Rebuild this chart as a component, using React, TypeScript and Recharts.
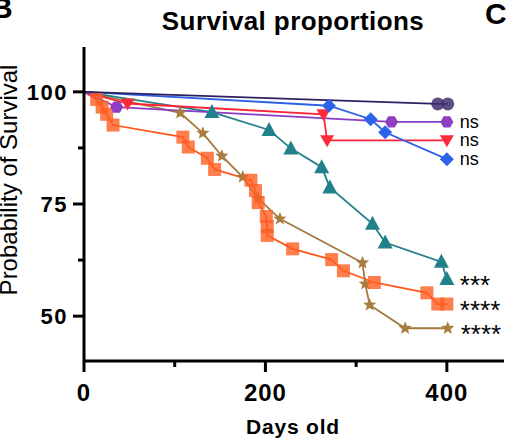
import React from 'react';
import { LineChart, Line, XAxis, YAxis } from 'recharts';

// days old, survival %
const navyDays = [0, 390, 401];
const navySurv = [100, 97.3, 97.3];
const blueDays = [0, 270, 316, 332, 400];
const blueSurv = [100, 96.9, 93.9, 91, 85];
const purpleDays = [0, 36, 339, 400];
const purpleSurv = [100, 96.6, 93.3, 93.3];
const redDays = [0, 48, 264, 268, 400];
const redSurv = [100, 97.4, 95, 89.2, 89.2];
const tealDays = [0, 141, 204, 228, 262, 271, 318, 332, 394, 400];
const tealSurv = [100, 95.5, 91.5, 87.4, 83.2, 78.7, 70.6, 66.4, 62.1, 58.3];
const orangeDays = [0, 14, 20, 25, 32, 109, 115, 136, 144, 184, 189, 192, 201, 202, 202, 230, 273, 286, 320, 378, 390, 400];
const orangeSurv = [100, 98.3, 96.6, 95, 92.6, 89.9, 87.7, 85.2, 82.7, 80.3, 78, 75.3, 72.2, 70, 68, 65, 62.6, 60.1, 57.5, 55.2, 52.7, 52.7];
const brownDays = [0, 106, 131, 152, 175, 192, 216, 307, 310, 315, 354, 401];
const brownSurv = [100, 95.3, 90.8, 85.7, 81, 76.2, 71.7, 61.9, 57.2, 52.5, 47.3, 47.3];

const xTicks = [0, 100, 200, 300, 400];
const yTicks = [50, 62.5, 75, 87.5, 100];
const endTags = ['', 'ns', 'ns', 'ns', '***', '****', '****'];

const FONT = '"Liberation Sans", Arial, sans-serif';

const zip = (xs: number[], ys: number[]) => xs.map((x, i) => ({ x, y: ys[i] }));

type Shape = 'circle' | 'diamond' | 'hexagon' | 'down' | 'up' | 'square' | 'star';

const drawShape = (shape: Shape, cx: number, cy: number, fill: string, opacity: number) => {
  switch (shape) {
    case 'circle':
      return <circle cx={cx} cy={cy} r={6.5} fill={fill} fillOpacity={opacity} />;
    case 'diamond':
      return <polygon points={`${cx},${cy - 7} ${cx + 7},${cy} ${cx},${cy + 7} ${cx - 7},${cy}`} fill={fill} fillOpacity={opacity} />;
    case 'hexagon': {
      const pts = [0, 1, 2, 3, 4, 5].map((k) => {
        const a = (Math.PI / 3) * k;
        return `${cx + 6.5 * Math.cos(a)},${cy + 6.5 * Math.sin(a)}`;
      });
      return <polygon points={pts.join(' ')} fill={fill} fillOpacity={opacity} />;
    }
    case 'down':
      return <polygon points={`${cx - 7},${cy - 5} ${cx + 7},${cy - 5} ${cx},${cy + 7}`} fill={fill} fillOpacity={opacity} />;
    case 'up':
      return <polygon points={`${cx},${cy - 8} ${cx + 7.5},${cy + 6} ${cx - 7.5},${cy + 6}`} fill={fill} fillOpacity={opacity} />;
    case 'square':
      return <rect x={cx - 6.5} y={cy - 6.5} width={13} height={13} fill={fill} fillOpacity={opacity} />;
    case 'star': {
      const pts = [];
      for (let k = 0; k < 10; k++) {
        const a = -Math.PI / 2 + (Math.PI / 5) * k;
        const r = k % 2 === 0 ? 7 : 3;
        pts.push(`${cx + r * Math.cos(a)},${cy + r * Math.sin(a)}`);
      }
      return <polygon points={pts.join(' ')} fill={fill} fillOpacity={opacity} />;
    }
  }
};

const series = [
  { name: 'brown', data: zip(brownDays, brownSurv), stroke: '#a37a3c', fill: '#a87d3e', shape: 'star' as Shape, opacity: 1, tag: endTags[6] },
  { name: 'orange', data: zip(orangeDays, orangeSurv), stroke: '#ff5a1c', fill: '#ff5e22', shape: 'square' as Shape, opacity: 0.8, tag: endTags[5] },
  { name: 'teal', data: zip(tealDays, tealSurv), stroke: '#23808b', fill: '#22808a', shape: 'up' as Shape, opacity: 1, tag: endTags[4] },
  { name: 'red', data: zip(redDays, redSurv), stroke: '#ff2236', fill: '#ff2a3a', shape: 'down' as Shape, opacity: 1, tag: endTags[3] },
  { name: 'purple', data: zip(purpleDays, purpleSurv), stroke: '#8a3cc4', fill: '#8c3fc2', shape: 'hexagon' as Shape, opacity: 1, tag: endTags[1] },
  { name: 'blue', data: zip(blueDays, blueSurv), stroke: '#2b60e6', fill: '#2d63ea', shape: 'diamond' as Shape, opacity: 1, tag: endTags[2] },
  { name: 'navy', data: zip(navyDays, navySurv), stroke: '#2c205f', fill: '#3e3070', shape: 'circle' as Shape, opacity: 0.85, tag: endTags[0] },
];

const XTick = (props: any) => {
  const { x, y, payload } = props;
  const major = payload.value % 200 === 0;
  return (
    <g>
      <line x1={x} x2={x} y1={y} y2={y + (major ? 11 : 6)} stroke="#000" strokeWidth={3} />
      {major && (
        <text x={x} y={y + 40} textAnchor="middle" fontFamily={FONT} fontWeight="bold" fontSize={24} letterSpacing={1} fill="#000">
          {payload.value}
        </text>
      )}
    </g>
  );
};

const YTick = (props: any) => {
  const { x, y, payload } = props;
  const major = payload.value % 25 === 0;
  return (
    <g>
      <line x1={x} x2={x - (major ? 11 : 6)} y1={y} y2={y} stroke="#000" strokeWidth={3} />
      {major && (
        <text x={x - 16} y={y + 8} textAnchor="end" fontFamily={FONT} fontWeight="bold" fontSize={22} letterSpacing={1.5} fill="#000">
          {payload.value}
        </text>
      )}
    </g>
  );
};

const makeDot = (s: (typeof series)[number]) => (props: any) => {
  const { cx, cy, index } = props;
  if (index === 0 || cx == null || cy == null) return <g key={`${s.name}-${index}`} />;
  const last = index === s.data.length - 1;
  const star = s.tag.startsWith('*');
  return (
    <g key={`${s.name}-${index}`}>
      {drawShape(s.shape, cx, cy, s.fill, s.opacity)}
      {last && s.tag && (
        <text
          x={cx + 13}
          y={star ? cy + 15 : cy + 6}
          fontFamily={FONT}
          fontSize={star ? 26 : 18}
          fill="#000"
        >
          {s.tag}
        </text>
      )}
    </g>
  );
};

export default function App() {
  return (
    <div style={{ position: 'absolute', left: 0, top: 0, width: 506, height: 442, background: '#fff' }}>
      <LineChart width={506} height={442} margin={{ top: 47, right: 2, bottom: 0, left: 0 }}>
        <XAxis
          type="number"
          dataKey="x"
          domain={[0, 463]}
          ticks={xTicks}
          height={81}
          tickSize={0}
          tickMargin={0}
          tickLine={false}
          axisLine={{ stroke: '#000', strokeWidth: 3 }}
          tick={<XTick />}
          allowDataOverflow
        />
        <YAxis
          type="number"
          dataKey="y"
          domain={[40, 110]}
          ticks={yTicks}
          width={84}
          tickSize={0}
          tickMargin={0}
          tickLine={false}
          axisLine={{ stroke: '#000', strokeWidth: 3 }}
          tick={<YTick />}
          allowDataOverflow
        />
        {series.map((s) => (
          <Line
            key={s.name}
            name={s.name}
            data={s.data}
            dataKey="y"
            type="linear"
            stroke={s.stroke}
            strokeWidth={1.8}
            dot={makeDot(s)}
            activeDot={false}
            isAnimationActive={false}
          />
        ))}
      </LineChart>
      <svg width={506} height={442} style={{ position: 'absolute', left: 0, top: 0, pointerEvents: 'none' }}>
        <text x={-9} y={18} fontFamily={FONT} fontWeight="bold" fontSize={30} fill="#000">B</text>
        <text x={485} y={24} fontFamily={FONT} fontWeight="bold" fontSize={30} fill="#000">C</text>
        <text x={293} y={30} textAnchor="middle" fontFamily={FONT} fontWeight="bold" fontSize={26} letterSpacing={0.4} fill="#000">
          Survival proportions
        </text>
        <text x={293} y={434} textAnchor="middle" fontFamily={FONT} fontWeight="bold" fontSize={21} letterSpacing={0.8} fill="#000">
          Days old
        </text>
        <text
          x={17}
          y={180}
          transform="rotate(-90, 17, 180)"
          textAnchor="middle"
          fontFamily={FONT}
          fontSize={24}
          fill="#000"
        >
          Probability of Survival
        </text>
      </svg>
    </div>
  );
}
